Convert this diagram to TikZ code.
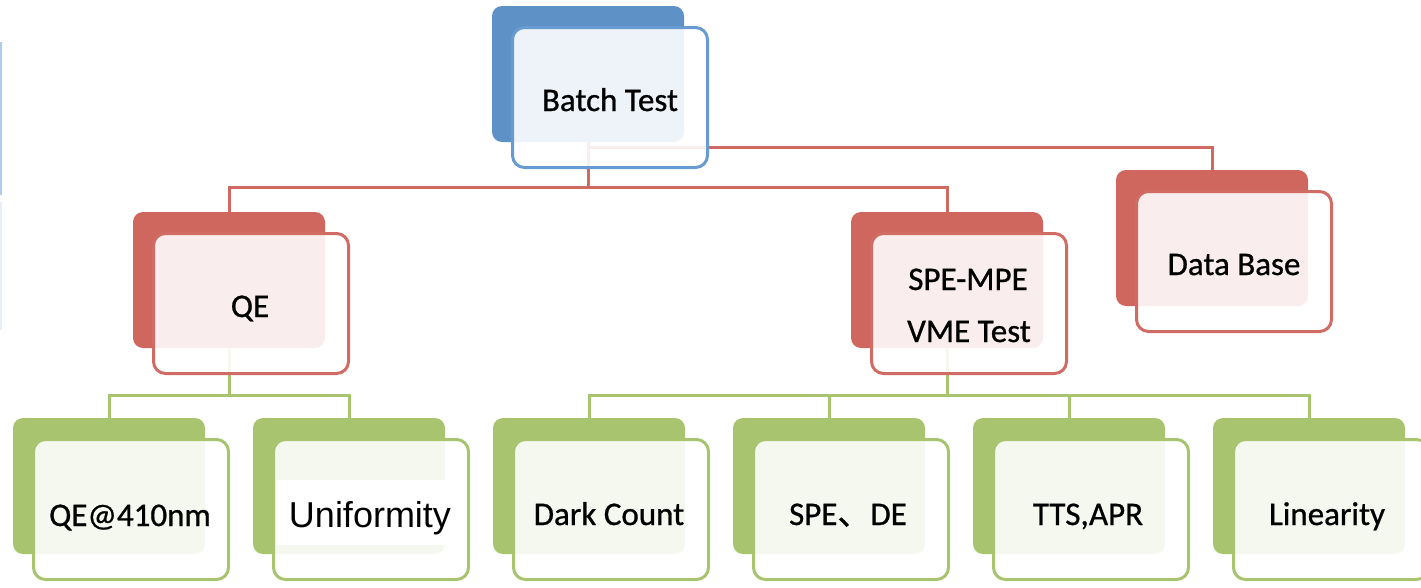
\documentclass[tikz,border=0pt]{standalone}
\usepackage{fontspec}
\setmainfont{Carlito}
\newfontfamily\cardfont{Carlito}[FakeBold=0.8]
\newfontfamily\arialfont{Liberation Sans}
\newfontfamily\cjkfont{Noto Sans CJK SC}[FakeBold=0.8]
\usetikzlibrary{calc}

\definecolor{bbase}{RGB}{94,146,199}
\definecolor{bline}{RGB}{104,155,210}
\definecolor{rbase}{RGB}{207,103,95}
\definecolor{rline}{RGB}{208,108,100}
\definecolor{gbase}{RGB}{169,196,110}
\definecolor{gline}{RGB}{169,196,110}
\definecolor{rlink}{RGB}{208,105,98}
\definecolor{glink}{RGB}{169,196,110}
\definecolor{edgeblue}{RGB}{172,204,240}
\definecolor{edgefaint}{RGB}{232,239,250}

\tikzset{
  backbox/.style={rectangle, rounded corners=10pt, minimum width=192pt,
    minimum height=136pt, inner sep=0pt, outer sep=0pt, fill=#1},
  frontbox/.style={rectangle, rounded corners=12pt, minimum width=195pt,
    minimum height=140pt, inner sep=0pt, outer sep=0pt, draw=#1,
    line width=3pt, fill=white, fill opacity=0.89},
  lbl/.style={anchor=base, font=\cardfont\fontsize{33}{40}\selectfont,
    text=black, inner sep=0pt},
  redlink/.style={draw=rlink, line width=3pt},
  greenlink/.style={draw=glink, line width=3pt},
}

\begin{document}
\begin{tikzpicture}[x=1pt, y=-1pt]
\useasboundingbox (0,0) rectangle (1421,587);

% thin strip along the left border
\draw[edgeblue, line width=2pt] (1,42) -- (1,195);
\draw[edgefaint, line width=2pt] (1,202) -- (1,330);

% solid back plates
\node[backbox=bbase] (bt-b) at (588,74) {};
\node[backbox=rbase] (qe-b) at (229,280) {};
\node[backbox=rbase] (spe-b) at (947,280) {};
\node[backbox=rbase] (db-b) at (1212,238) {};
\node[backbox=gbase] (b1-b) at (109,486) {};
\node[backbox=gbase] (b2-b) at (349,486) {};
\node[backbox=gbase] (b3-b) at (589,486) {};
\node[backbox=gbase] (b4-b) at (829,486) {};
\node[backbox=gbase] (b5-b) at (1069,486) {};
\node[backbox=gbase] (b6-b) at (1309,486) {};

% connectors, level one
\coordinate (rjoin) at (588,147);
\coordinate (rbus) at (588,187);
\draw[redlink] (bt-b.south) -- (rjoin) -| (db-b.north);
\draw[redlink] (rjoin) -- (rbus);
\draw[redlink] (qe-b.north) |- (rbus);
\draw[redlink] (spe-b.north) |- (rbus);

% connectors, level two
\coordinate (gq) at (229,395);
\coordinate (gs) at (947,395);
\draw[greenlink] (qe-b.south) -- (gq);
\draw[greenlink] (b1-b.north) |- (gq);
\draw[greenlink] (b2-b.north) |- (gq);
\draw[greenlink] (spe-b.south) -- (gs);
\draw[greenlink] (b3-b.north) |- (gs);
\draw[greenlink] (b4-b.north) |- (gs);
\draw[greenlink] (b5-b.north) |- (gs);
\draw[greenlink] (b6-b.north) |- (gs);

% translucent front cards
\node[frontbox=bline] (bt-f) at (610,97.5) {};
\node[frontbox=rline] (qe-f) at (251,303.5) {};
\node[frontbox=rline] (spe-f) at (969,303.5) {};
\node[frontbox=rline] (db-f) at (1234,261.5) {};
\node[frontbox=gline] (b1-f) at (131,509.5) {};
\node[frontbox=gline] (b2-f) at (371,509.5) {};
\node[frontbox=gline] (b3-f) at (611,509.5) {};
\node[frontbox=gline] (b4-f) at (851,509.5) {};
\node[frontbox=gline] (b5-f) at (1091,509.5) {};
\node[frontbox=gline] (b6-f) at (1331,509.5) {};

% labels
\node[lbl] (t-bt) at (610,111) {Batch Test};
\node[lbl] (t-qe) at (250,317) {QE};
\node[lbl] (t-spe1) at (968,290) {SPE-MPE};
\node[lbl] (t-spe2) at (969,342) {VME Test};
\node[lbl] (t-db) at (1234,275) {Data Base};
\node[lbl] (t-b1) at (130,526) {QE@410nm};
\node[fill=white, minimum width=179pt, minimum height=65pt, inner sep=0pt]
  (uni-patch) at (365.5,512.5) {};
\node[lbl, font=\arialfont\fontsize{36}{42}\selectfont] (t-b2) at (370,527) {Uniformity};
\node[lbl] (t-b3) at (609,525) {Dark Count};
\node[lbl] (t-b4) at (848,525) {SPE{\cjkfont 、}DE};
\node[lbl] (t-b5) at (1088,525) {TTS,APR};
\node[lbl] (t-b6) at (1327,525) {Linearity};
\end{tikzpicture}
\end{document}
